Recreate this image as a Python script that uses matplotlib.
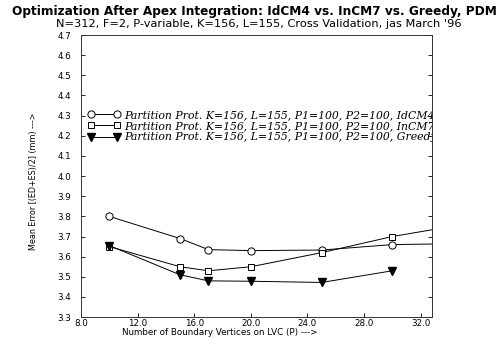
import matplotlib
matplotlib.use("Agg")
import matplotlib.pyplot as plt
import numpy as np

# ---- data ----
P = [10, 15, 17, 20, 25, 30, 35]
idcm4 = [3.80, 3.69, 3.635, 3.63, 3.633, 3.66, 3.665]
incm7 = [3.65, 3.55, 3.53, 3.55, 3.62, 3.70, 3.76]
greedy = [3.655, 3.51, 3.48, 3.478, 3.472, 3.53, np.nan]
labels = [
    "Partition Prot. K=156, L=155, P1=100, P2=100, IdCM4-",
    "Partition Prot. K=156, L=155, P1=100, P2=100, InCM7",
    "Partition Prot. K=156, L=155, P1=100, P2=100, Greedy",
]
xticks = [8, 12, 16, 20, 24, 28, 32]
yticks = [round(3.3 + 0.1 * i, 1) for i in range(15)]

title = "Optimization After Apex Integration: IdCM4 vs. InCM7 vs. Greedy, PDM"
subtitle = "N=312, F=2, P-variable, K=156, L=155, Cross Validation, jas March '96"

fig = plt.figure(figsize=(5.0, 3.37), dpi=100)
ax = fig.add_axes([0.162, 0.059, 0.702, 0.837])

ax.plot(P, idcm4, color="black", lw=0.7, marker="o", ms=5.2,
        mfc="white", mec="black", mew=0.7, label=labels[0])
ax.plot(P, incm7, color="black", lw=0.7, marker="s", ms=4.8,
        mfc="white", mec="black", mew=0.7, label=labels[1])
ax.plot(P, greedy, color="black", lw=0.7, marker="v", ms=5.5,
        mfc="black", mec="black", label=labels[2])

ax.set_xlim(8, 32.8)
ax.set_ylim(3.3, 4.7)
ax.set_xticks(xticks)
ax.set_xticklabels([f"{v:.1f}" for v in xticks])
ax.set_yticks(yticks)
ax.set_yticklabels([f"{v:.1f}" for v in yticks])
ax.tick_params(direction="in", length=3, width=0.6, labelsize=6.3,
               right=True, top=False)
ax.tick_params(axis="x", pad=1.5)
ax.tick_params(axis="y", pad=7)
for s in ax.spines.values():
    s.set_linewidth(0.7)
    s.set_color("#333333")

leg = ax.legend(loc="upper left", bbox_to_anchor=(0.02, 0.735), frameon=False,
                numpoints=2, handlelength=3.0, handletextpad=0.38,
                labelspacing=0.12, borderaxespad=0, borderpad=0,
                prop={"family": "DejaVu Serif", "style": "italic", "size": 7.8})
for t in leg.get_texts():
    t.set_clip_on(True)
    t.set_clip_box(ax.bbox)

ax.set_xlabel("Number of Boundary Vertices on LVC (P) --->", fontsize=6.3)
ax.xaxis.set_label_coords(0.396, -0.039)
ax.set_ylabel("Mean Error [(ED+ES)/2] (mm) --->", fontsize=5.8)
ax.yaxis.set_label_coords(-0.122, 0.48)

fig.text(0.508, 0.966, title, ha="center", va="center", fontsize=8.7,
         fontweight="bold", family="DejaVu Sans")
fig.text(0.518, 0.929, subtitle, ha="center", va="center", fontsize=8.2,
         family="DejaVu Sans")

fig.savefig("out.png", dpi=100)
